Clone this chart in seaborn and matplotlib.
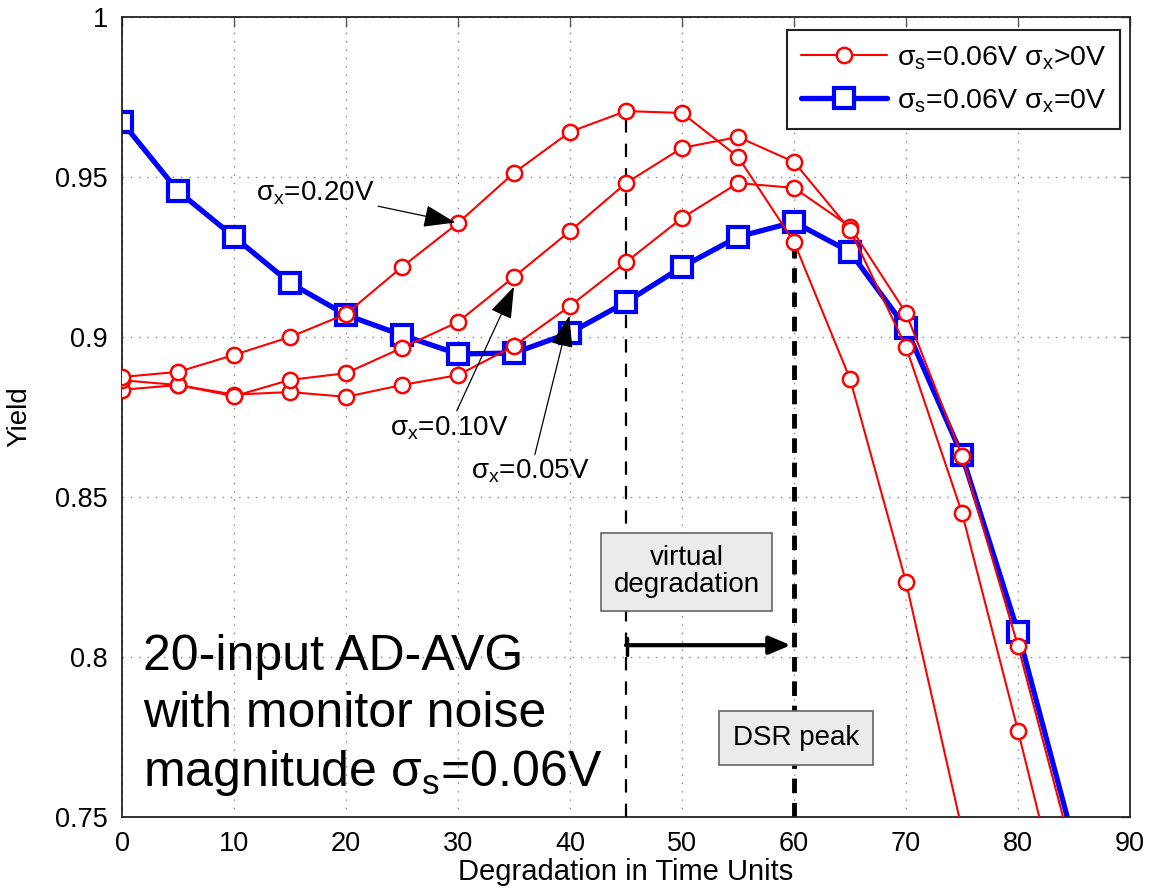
import numpy as np
import pandas as pd
import matplotlib
matplotlib.use("Agg")
import matplotlib.pyplot as plt
import seaborn as sns
from matplotlib.lines import Line2D

# degradation time units
x = [0, 5, 10, 15, 20, 25, 30, 35, 40, 45, 50, 55, 60, 65, 70, 75, 80, 85]

# sigma_x = 0 (blue)
yield_sx0 = [0.9672, 0.9456, 0.9313, 0.9169, 0.9069, 0.9006, 0.8947, 0.8950, 0.9013,
             0.9109, 0.9219, 0.9313, 0.9359, 0.9266, 0.9028, 0.8630, 0.8078, 0.742]
# sigma_x > 0 (red)
yield_sx020 = [0.8875, 0.8891, 0.8944, 0.9000, 0.9072, 0.9219, 0.9356, 0.9513, 0.9641,
               0.9706, 0.9700, 0.9563, 0.9297, 0.8869, 0.8234, 0.746, 0.68, 0.60]
yield_sx010 = [0.8865, 0.8850, 0.8815, 0.8866, 0.8887, 0.8966, 0.9047, 0.9188, 0.9331,
               0.9481, 0.9591, 0.9625, 0.9547, 0.9335, 0.8969, 0.8450, 0.7769, 0.706]
yield_sx005 = [0.8835, 0.8850, 0.8820, 0.8828, 0.8813, 0.8850, 0.8881, 0.8972, 0.9097,
               0.9234, 0.9372, 0.9481, 0.9466, 0.9345, 0.9075, 0.8628, 0.8034, 0.737]

xticks = [0, 10, 20, 30, 40, 50, 60, 70, 80, 90]
yticks = [0.75, 0.8, 0.85, 0.9, 0.95, 1.0]
ytick_labels = ["0.75", "0.8", "0.85", "0.9", "0.95", "1"]

sns.set_style("white")
plt.rcParams["font.family"] = ["Liberation Sans", "DejaVu Sans"]
plt.rcParams["mathtext.default"] = "regular"
plt.rcParams["text.color"] = "black"
plt.rcParams["axes.labelcolor"] = "black"
plt.rcParams["xtick.labelcolor"] = "black"
plt.rcParams["ytick.labelcolor"] = "black"

fig = plt.figure(figsize=(11.51, 8.94), dpi=100)
ax = fig.add_axes([0.106, 0.0861, 0.8758, 0.8949])

red_kw = dict(color="#ff0000", linewidth=1.5, marker="o", markersize=11,
              markerfacecolor="white", markeredgecolor="#ff0000", markeredgewidth=1.8)
for ys in [yield_sx005, yield_sx010, yield_sx020]:
    df = pd.DataFrame({"x": x, "y": ys})
    sns.lineplot(data=df, x="x", y="y", ax=ax, legend=False, zorder=3, **red_kw)

blue_kw = dict(color="#0000ff", linewidth=3.8, marker="s", markersize=14,
               markerfacecolor="white", markeredgecolor="#0000ff", markeredgewidth=3)
df_b = pd.DataFrame({"x": x, "y": yield_sx0})
sns.lineplot(data=df_b, x="x", y="y", ax=ax, legend=False, zorder=2, **blue_kw)

# vertical markers
ax.plot([45, 45], [0.75, 0.9695], color="black", linestyle=(0, (6, 5)), linewidth=1.6, zorder=1)
ax.plot([60, 60], [0.75, 0.934], color="black", linestyle=(0, (3, 2)), linewidth=3.5, zorder=1)
ax.annotate("", xy=(59.7, 0.8037), xytext=(45, 0.8037),
            arrowprops=dict(arrowstyle="-|>,head_length=1.3,head_width=0.55",
                            color="black", lw=3.0, shrinkA=0, shrinkB=0))
ax.plot([45.1, 45.1], [0.8005, 0.806], color="black", linewidth=2.5)

box = dict(boxstyle="square,pad=0.45", fc="#ebebeb", ec="#666666", lw=1.2)
ax.text(50.4, 0.8266, "virtual\ndegradation", fontsize=20, ha="center", va="center",
        bbox=box, linespacing=1.05)
ax.text(60.2, 0.7747, "DSR peak", fontsize=20, ha="center", va="center",
        bbox=dict(boxstyle="square,pad=0.5", fc="#ebebeb", ec="#666666", lw=1.2))

# sigma_x annotations
arrow = dict(arrowstyle="-|>,head_length=1.0,head_width=0.35", color="black", lw=0.9,
             shrinkA=0, shrinkB=2)
ax.annotate(r"$\sigma_x$=0.20V", xy=(30, 0.9356), xytext=(12.0, 0.945),
            fontsize=20, va="center", ha="left", arrowprops=arrow)
ax.annotate(r"$\sigma_x$=0.10V", xy=(35.1, 0.9165), xytext=(23.9, 0.8716),
            fontsize=20, va="center", ha="left", arrowprops=arrow)
ax.annotate(r"$\sigma_x$=0.05V", xy=(40.0, 0.9075), xytext=(31.2, 0.858),
            fontsize=20, va="center", ha="left", arrowprops=arrow)

ax.text(1.9, 0.7815, "20-input AD-AVG\nwith monitor noise\nmagnitude $\\sigma_s$=0.06V",
        fontsize=36, ha="left", va="center", linespacing=1.3)

ax.set_xlim(0, 90)
ax.set_ylim(0.75, 1.0)
ax.set_xticks(xticks)
ax.set_yticks(yticks)
ax.set_yticklabels(ytick_labels)
ax.tick_params(axis="both", direction="in", length=7, labelsize=19.5, top=True, right=True,
               width=1.0, color="#555555", pad=10)
ax.grid(True, color="#888888", linestyle=(0, (1, 5)), linewidth=1.0)
for s in ax.spines.values():
    s.set_linewidth(1.3)
    s.set_color("#222222")

ax.set_xlabel("Degradation in Time Units", fontsize=21, labelpad=1)
ax.set_ylabel("Yield", fontsize=20)
ax.yaxis.set_label_coords(-0.089, 0.5)

handles = [Line2D([], [], label=r"$\sigma_s$=0.06V $\sigma_x$>0V", **red_kw),
           Line2D([], [], label=r"$\sigma_s$=0.06V $\sigma_x$=0V", **blue_kw)]
leg = ax.legend(handles=handles, loc="upper right", fontsize=20.5, frameon=True,
                fancybox=False, edgecolor="#222222", framealpha=1, borderpad=0.5,
                handlelength=3.0, handletextpad=0.35, labelspacing=0.55,
                bbox_to_anchor=(0.9905, 0.984), borderaxespad=0)
leg.get_frame().set_linewidth(1.5)

plt.savefig("out.png", dpi=100)
